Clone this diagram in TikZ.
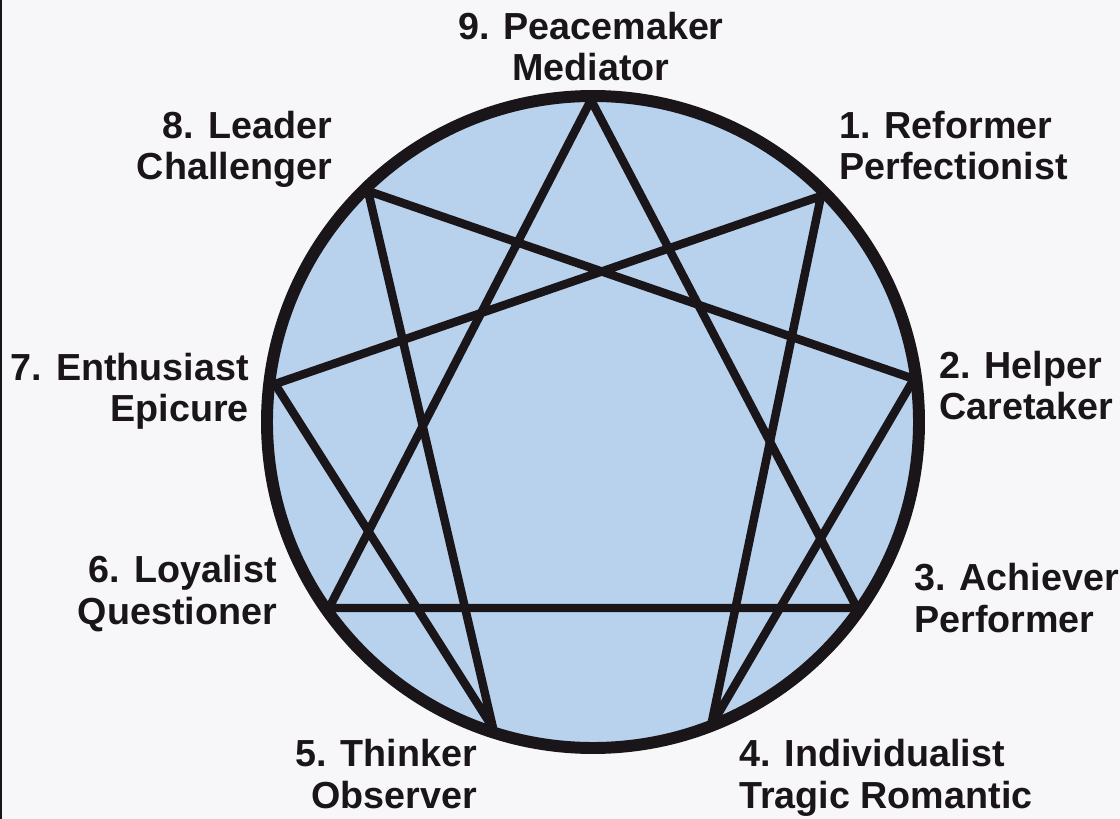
\documentclass[tikz,border=0pt]{standalone}
\usepackage{fontspec}
\setmainfont{Liberation Sans}
\usetikzlibrary{positioning}
\definecolor{paper}{RGB}{247,247,250}
\definecolor{ringblue}{RGB}{184,209,237}
\definecolor{ink}{RGB}{26,21,24}

\begin{document}
\begin{tikzpicture}[
  x=0.025cm, y=-0.025cm,
  lbl/.style={font=\fontsize{26.8}{29.8}\selectfont\bfseries, text=ink, inner sep=0pt},
  chord/.style={draw=ink, line width=6pt, line cap=round, line join=round},
  rim/.style={draw=ink, line width=8.5pt},
]
% Background
\fill[paper] (0,0) rectangle (1120,819);
\useasboundingbox (0,0) rectangle (1120,819);
\fill[ink] (0,0) rectangle (2,819);

% Points on the circle
\coordinate (c) at (593,422);
\coordinate (p9) at (591,100);
\coordinate (p1) at (821,196);
\coordinate (p2) at (914,379);
\coordinate (p3) at (857,608);
\coordinate (p4) at (711,726);
\coordinate (p5) at (493,728);
\coordinate (p6) at (329,608);
\coordinate (p7) at (275,384);
\coordinate (p8) at (368,191);

% Circle and lines
\fill[ringblue] (c) circle[radius=326];
\draw[chord] (p9) -- (p3) -- (p6) -- cycle;
\draw[chord] (p1) -- (p4) -- (p2) -- (p8) -- (p5) -- (p7) -- cycle;
\draw[rim] (c) circle[radius=326];

% Labels (anchored at the baseline of the second line)
\node[lbl, anchor=base, align=center] (l9) at (591,81) {9. Peacemaker\\Mediator};
\node[lbl, anchor=base east, align=right] (l8) at (332,180) {8. Leader\\Challenger};
\node[lbl, anchor=base west, align=left] (l1) at (839,180) {1. Reformer\\Perfectionist};
\node[lbl, anchor=base east, align=right] (l7) at (249,422) {7. Enthusiast\\Epicure};
\node[lbl, anchor=base west, align=left] (l2) at (939,420) {2. Helper\\Caretaker};
\node[lbl, anchor=base east, align=right] (l6) at (277,624) {6. Loyalist\\Questioner};
\node[lbl, anchor=base west, align=left] (l3) at (914,632) {3. Achiever\\Performer};
\node[lbl, anchor=base east, align=right] (l5) at (477,808) {5. Thinker\\Observer};
\node[lbl, anchor=base west, align=left] (l4) at (739,808) {4. Individualist\\Tragic Romantic};
\end{tikzpicture}
\end{document}
